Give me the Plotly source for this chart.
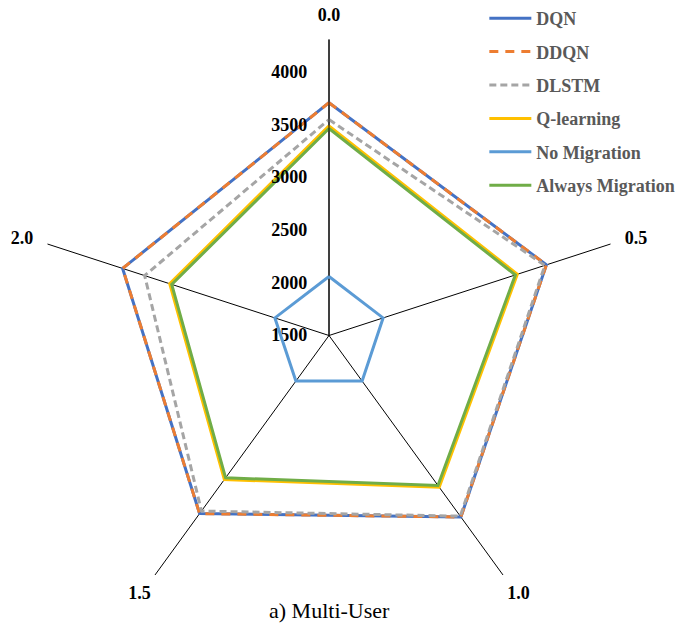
import plotly.graph_objects as go

# Radar axes (spokes)
categories = ["0.0", "0.5", "1.0", "1.5", "2.0"]

# Series values per spoke
dqn = [3710, 3670, 3630, 3590, 3560]
ddqn = [3710, 3670, 3630, 3590, 3560]
dlstm = [3550, 3655, 3620, 3560, 3340]
q_learning = [3490, 3380, 3280, 3190, 3090]
no_migration = [2060, 2040, 2035, 2035, 2040]
always_migration = [3465, 3360, 3260, 3170, 3070]

radial_ticks = [1500, 2000, 2500, 3000, 3500, 4000]

# name, values, colour, dash, polar subplot
series = [
    ("DQN", dqn, "#4472C4", "solid", "polar"),
    ("DDQN", ddqn, "#ED7D31", "9px,7px", "polar"),
    ("DLSTM", dlstm, "#A5A5A5", "7px,4px", "polar"),
    ("Q-learning", q_learning, "#FFC000", "solid", "polar"),
    ("No Migration", no_migration, "#5B9BD5", "solid", "polar2"),
    ("Always Migration", always_migration, "#70AD47", "solid", "polar"),
]

serif = "Liberation Serif, Times New Roman, serif"
label_font = dict(family=serif, size=18, color="black", weight="bold")
r_range = [1500, 4310]

fig = go.Figure()
for i, (name, vals, color, dash, sub) in enumerate(series):
    fig.add_trace(go.Scatterpolar(
        r=vals + vals[:1],
        theta=categories + categories[:1],
        mode="lines",
        name=name,
        subplot=sub,
        legendgroup=f"g{i}",
        line=dict(color=color, width=3, dash=dash),
    ))

W, H = 687, 637
cx, cy, R = 329, 335.5, 296
domain = dict(x=[(cx - R) / W, (cx + R) / W],
              y=[(H - cy - R) / H, (H - cy + R) / H])

# upper spokes get their labels from the main polar axis,
# the two lower spokes from an overlaid axis with a shorter standoff
upper_text = [c if c not in ("1.0", "1.5") else "" for c in categories]
lower_text = [c if c in ("1.0", "1.5") else "" for c in categories]

common_angular = dict(
    type="category",
    categoryorder="array",
    categoryarray=categories,
    tickvals=categories,
    rotation=90,
    direction="clockwise",
    showline=False,
    tickcolor="rgba(0,0,0,0)",
    ticks="outside",
    tickfont=label_font,
)

fig.update_layout(
    width=W, height=H,
    margin=dict(l=0, r=0, t=0, b=0),
    paper_bgcolor="white",
    plot_bgcolor="white",
    polar=dict(
        domain=domain,
        bgcolor="white",
        gridshape="linear",
        radialaxis=dict(
            range=r_range,
            tickvals=radial_ticks,
            angle=90,
            side="counterclockwise",
            showgrid=False,
            showline=True,
            linecolor="black",
            linewidth=1,
            ticks="outside",
            ticklen=15,
            tickcolor="rgba(0,0,0,0)",
            tickangle=90,
            tickfont=label_font,
        ),
        angularaxis=dict(
            **common_angular,
            ticktext=upper_text,
            ticklen=11,
            showgrid=True,
            gridcolor="black",
            gridwidth=1,
        ),
    ),
    polar2=dict(
        domain=domain,
        bgcolor="rgba(0,0,0,0)",
        gridshape="linear",
        radialaxis=dict(range=r_range, visible=False, showgrid=False),
        angularaxis=dict(
            **common_angular,
            ticktext=lower_text,
            ticklen=3,
            showgrid=False,
        ),
    ),
    legend=dict(
        x=0.705, y=1.0, xanchor="left", yanchor="top",
        bgcolor="rgba(0,0,0,0)",
        font=dict(family=serif, size=18, color="#595959", weight="bold"),
        itemwidth=42,
        tracegroupgap=7,
    ),
    annotations=[dict(
        text="a) Multi-User", x=cx / W, y=(H - 610) / H,
        xref="paper", yref="paper", xanchor="center", yanchor="middle",
        showarrow=False,
        font=dict(family=serif, size=22, color="black"),
    )],
)

fig.write_html("out.html")
